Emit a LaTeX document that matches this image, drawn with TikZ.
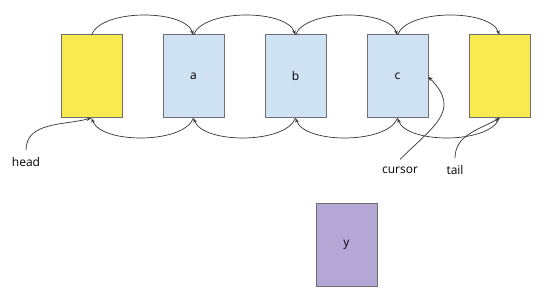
\documentclass[tikz,border=0pt]{standalone}
\usepackage{fontspec}
\setmainfont{Open Sans}
\usetikzlibrary{arrows.meta,positioning}
\definecolor{ListYellow}{HTML}{F9EA4F}
\definecolor{ListBlue}{HTML}{CFE2F3}
\definecolor{ListPurple}{HTML}{B4A7D6}
\definecolor{ListEdge}{HTML}{6F6F6F}
\definecolor{ListInk}{HTML}{333333}

\begin{document}
\begin{tikzpicture}[x=1pt,y=-1pt,node distance=41pt,>=Stealth]
  \tikzset{
    cell/.style={draw=ListEdge,line width=1pt,minimum width=61pt,minimum height=83pt,
      inner sep=0pt,outer sep=0pt,font=\fontsize{12}{14}\selectfont},
    sentinel/.style={cell,fill=ListYellow},
    item/.style={cell,fill=ListBlue},
    tag/.style={font=\fontsize{12}{14}\selectfont,inner sep=7pt},
    link/.style={->,draw=ListInk,line width=.7pt,
      >={Stealth[length=5pt,width=3.5pt]}}
  }
  \useasboundingbox[fill=white] (0,0) rectangle (551,304);
  \node[sentinel] (hd) at (91.5,76.5) {};
  \node[item,right=of hd] (a) {a};
  \node[item,right=of a] (b) {b};
  \node[item,right=of b] (c) {c};
  \node[sentinel,right=of c] (tl) {};
  \node[cell,fill=ListPurple] (y) at (346.5,245) {y};
  % next pointers
  \draw[link] (hd.north) to[out=70,in=110,looseness=.7] (a.north);
  \draw[link] (a.north) to[out=70,in=110,looseness=.7] (b.north);
  \draw[link] (b.north) to[out=70,in=110,looseness=.7] (c.north);
  \draw[link] (c.north) to[out=70,in=110,looseness=.7] (tl.north);
  % prev pointers
  \draw[link] (a.south) to[out=-110,in=-70,looseness=.7] (hd.south);
  \draw[link] (b.south) to[out=-110,in=-70,looseness=.7] (a.south);
  \draw[link] (c.south) to[out=-110,in=-70,looseness=.7] (b.south);
  \draw[link] (tl.south) to[out=-110,in=-70,looseness=.7] (c.south);
  % labels
  \node[tag] (headlbl) at (26,162) {head};
  \node[tag] (cursorlbl) at (400,170) {cursor};
  \node[tag] (taillbl) at (455,170) {tail};
  \draw[link] (headlbl.north) to[out=90,in=-165] (hd.south);
  \draw[link] (cursorlbl.north) to[out=45,in=-45,looseness=1.4] (c.east);
  \draw[link] (taillbl.north) to[out=90,in=-150] (tl.south);
\end{tikzpicture}
\end{document}
